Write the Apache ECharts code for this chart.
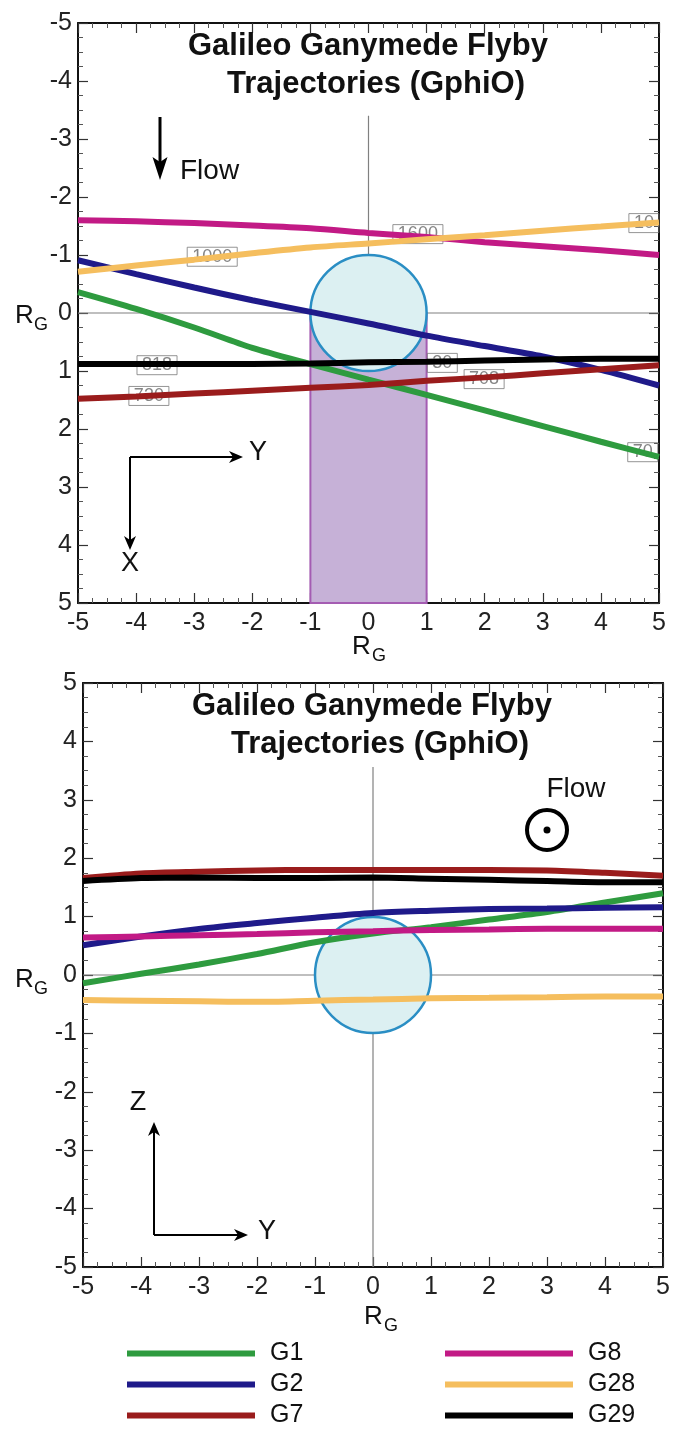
<!DOCTYPE html>
<html>
<head>
<meta charset="utf-8">
<script src="https://cdn.jsdelivr.net/npm/echarts@6/dist/echarts.min.js"></script>
<style>
  html, body { margin: 0; padding: 0; background: #ffffff; }
  #chart { width: 675px; height: 1429px; }
</style>
</head>
<body>
<div id="chart"></div>
<script>
// Positions along Y (R_G) where each trajectory is sampled
const ySamples = [-5, -4, -3, -2, -1, 0, 1, 2, 3, 4, 5];

// Upper panel: X coordinate (R_G) of each flyby at the sample positions
const xG1  = [-0.36, -0.07, 0.25, 0.60, 0.88, 1.15, 1.41, 1.68, 1.95, 2.22, 2.48];
const xG2  = [-0.91, -0.67, -0.44, -0.22, -0.02, 0.18, 0.39, 0.57, 0.75, 0.98, 1.25];
const xG7  = [1.48, 1.44, 1.39, 1.34, 1.29, 1.24, 1.17, 1.11, 1.04, 0.97, 0.90];
const xG8  = [-1.60, -1.58, -1.55, -1.51, -1.46, -1.38, -1.31, -1.22, -1.15, -1.08, -1.00];
const xG28 = [-0.71, -0.82, -0.92, -1.03, -1.13, -1.20, -1.27, -1.34, -1.42, -1.49, -1.56];
const xG29 = [0.88, 0.88, 0.88, 0.88, 0.87, 0.85, 0.84, 0.82, 0.80, 0.79, 0.79];

// Lower panel: Z coordinate (R_G) of each flyby at the sample positions
const zG1  = [-0.14, 0.02, 0.18, 0.36, 0.56, 0.71, 0.82, 0.95, 1.08, 1.24, 1.40];
const zG2  = [0.51, 0.66, 0.79, 0.89, 0.98, 1.06, 1.10, 1.13, 1.14, 1.15, 1.16];
const zG7  = [1.66, 1.74, 1.77, 1.79, 1.80, 1.80, 1.80, 1.80, 1.79, 1.75, 1.70];
const zG8  = [0.64, 0.66, 0.68, 0.70, 0.73, 0.75, 0.77, 0.78, 0.79, 0.79, 0.79];
const zG28 = [-0.43, -0.44, -0.45, -0.46, -0.44, -0.42, -0.40, -0.39, -0.38, -0.37, -0.37];
const zG29 = [1.61, 1.66, 1.67, 1.66, 1.66, 1.67, 1.65, 1.63, 1.61, 1.59, 1.59];

// Flyby names and colours
const flybys = ['G1', 'G2', 'G7', 'G8', 'G28', 'G29'];
const flybyColors = ['#2e9b3f', '#1f1a8a', '#9a1c1c', '#c21a85', '#f5be5e', '#000000'];

// Time tags along the tracks (upper panel)
const tagText = ['1000', '1600', '10', '818', '730', '30', '708', '70'];
const tagY    = [-2.69, 0.85, 4.74, -3.64, -3.78, 1.27, 1.99, 4.72];
const tagX    = [-0.97, -1.36, -1.55, 0.90, 1.43, 0.86, 1.14, 2.40];

// Axis range and tick step (both panels, both axes)
const axisMin = -5;
const axisMax = 5;
const tickStep = 1;

// Ganymede: centre (Y, second coord) and radius, in R_G
const moon = [0, 0, 1];
// Geometric wake behind the moon in the upper panel: Y1, X1, Y2, X2
const wake = [-1, 0, 1, 5];

// Reference lines through the origin
const topHLine = [[-5, 0], [5, 0]];
const topVLine = [[0, -3.4], [0, -1]];
const botHLine = [[-5, 0], [5, 0]];
const botVLine = [[0, 3.56], [0, -5]];

const FONT = '"Liberation Sans", Arial, sans-serif';

const chart = echarts.init(document.getElementById('chart'), null, { renderer: 'canvas' });

const grids = [
  { left: 78, top: 23, width: 581, height: 580 },
  { left: 83, top: 683, width: 580, height: 584 }
];

function makeAxis(gridIndex, position, showLabel, inverse) {
  return {
    type: 'value',
    gridIndex: gridIndex,
    position: position,
    min: axisMin,
    max: axisMax,
    interval: tickStep,
    inverse: !!inverse,
    axisLine: { show: true, onZero: false, lineStyle: { color: '#111', width: 2 } },
    axisTick: { show: true, inside: true, length: 10, lineStyle: { color: '#333', width: 1.2 } },
    minorTick: { show: true, splitNumber: 4, length: 5, lineStyle: { color: '#555', width: 1 } },
    splitLine: { show: false },
    minorSplitLine: { show: false },
    axisLabel: {
      show: showLabel,
      fontSize: 25,
      fontFamily: FONT,
      color: '#222',
      margin: (position === 'left') ? 6 : 8
    }
  };
}

const xAxes = [
  makeAxis(0, 'bottom', true),
  makeAxis(0, 'top', false),
  makeAxis(1, 'bottom', true),
  makeAxis(1, 'top', false)
];
const yAxes = [
  makeAxis(0, 'left', true, true),
  makeAxis(0, 'right', false, true),
  makeAxis(1, 'left', true),
  makeAxis(1, 'right', false)
];

function pairs(ys, vs) { return ys.map((y, i) => [y, vs[i]]); }

function renderMoon(params, api) {
  const c = api.coord([api.value(0), api.value(1)]);
  const s = api.size([api.value(2), api.value(2)]);
  return {
    type: 'circle',
    shape: { cx: c[0], cy: c[1], r: s[0] },
    style: { fill: '#dcf0f2', stroke: '#2a8ec4', lineWidth: 2.5 }
  };
}

function renderWake(params, api) {
  const p1 = api.coord([api.value(0), api.value(1)]);
  const p2 = api.coord([api.value(2), api.value(3)]);
  return {
    type: 'rect',
    shape: {
      x: Math.min(p1[0], p2[0]), y: Math.min(p1[1], p2[1]),
      width: Math.abs(p2[0] - p1[0]), height: Math.abs(p2[1] - p1[1])
    },
    style: { fill: '#c6b1d7', stroke: '#a45cb2', lineWidth: 2 }
  };
}

function refLine(data, xi, yi) {
  return {
    type: 'line', xAxisIndex: xi, yAxisIndex: yi, data: data,
    symbol: 'none', silent: true, z: 1,
    lineStyle: { color: '#808080', width: 1.2 }
  };
}

const series = [];

// Upper panel (GphiO X vs Y)
series.push(refLine(topHLine, 0, 0));
series.push(refLine(topVLine, 0, 0));
series.push({
  type: 'custom', xAxisIndex: 0, yAxisIndex: 0, z: 2, silent: true,
  renderItem: renderWake, encode: { x: [0, 2], y: [1, 3] }, data: [wake]
});
series.push({
  type: 'custom', xAxisIndex: 0, yAxisIndex: 0, z: 3, silent: true,
  renderItem: renderMoon, encode: { x: 0, y: 1 }, data: [moon]
});
series.push({
  type: 'scatter', xAxisIndex: 0, yAxisIndex: 0, z: 4, silent: true,
  symbolSize: 1, itemStyle: { color: 'rgba(0,0,0,0)' },
  data: tagText.map((t, i) => ({ name: t, value: [tagY[i], tagX[i]] })),
  label: {
    show: true, position: 'inside', formatter: '{b}',
    fontSize: 18, fontFamily: FONT, color: '#666',
    borderColor: '#7a7a7a', borderWidth: 1, padding: [1, 5, 0, 5]
  }
});
const topValues = [xG1, xG2, xG7, xG8, xG28, xG29];
flybys.forEach((name, k) => {
  series.push({
    name: name, type: 'line', xAxisIndex: 0, yAxisIndex: 0, z: 5,
    data: pairs(ySamples, topValues[k]), smooth: 0.3, symbol: 'none',
    color: flybyColors[k], lineStyle: { width: 6, color: flybyColors[k] }
  });
});

// Lower panel (GphiO Z vs Y)
series.push(refLine(botHLine, 2, 2));
series.push(refLine(botVLine, 2, 2));
series.push({
  type: 'custom', xAxisIndex: 2, yAxisIndex: 2, z: 3, silent: true,
  renderItem: renderMoon, encode: { x: 0, y: 1 }, data: [moon]
});
const botValues = [zG1, zG2, zG7, zG8, zG28, zG29];
flybys.forEach((name, k) => {
  series.push({
    name: name, type: 'line', xAxisIndex: 2, yAxisIndex: 2, z: 5,
    data: pairs(ySamples, botValues[k]), smooth: 0.3, symbol: 'none',
    color: flybyColors[k], lineStyle: { width: 6, color: flybyColors[k] }
  });
});

function txt(text, x, y, size, opts) {
  opts = opts || {};
  return {
    type: 'text', x: x, y: y, z: 100, silent: true,
    style: {
      text: text, fontSize: size, fontFamily: FONT,
      fontWeight: opts.bold ? 'bold' : 'normal',
      fill: opts.color || '#111',
      align: opts.align || 'center', verticalAlign: 'middle'
    }
  };
}
function seg(x1, y1, x2, y2, w) {
  return { type: 'line', z: 100, silent: true, shape: { x1: x1, y1: y1, x2: x2, y2: y2 },
           style: { stroke: '#000', lineWidth: w || 2 } };
}
function head(points) {
  return { type: 'polygon', z: 100, silent: true, shape: { points: points }, style: { fill: '#000' } };
}

const graphics = [
  // titles
  txt('Galileo Ganymede Flyby', 368, 46, 31, { bold: true }),
  txt('Trajectories (GphiO)', 376, 84, 31, { bold: true }),
  txt('Galileo Ganymede Flyby', 372, 706, 31, { bold: true }),
  txt('Trajectories (GphiO)', 380, 744, 31, { bold: true }),

  // axis names R_G
  txt('R', 15, 316, 26, { align: 'left' }),
  txt('G', 34, 325, 18, { align: 'left' }),
  txt('R', 352, 647, 26, { align: 'left' }),
  txt('G', 372, 656, 18, { align: 'left' }),
  txt('R', 15, 980, 26, { align: 'left' }),
  txt('G', 34, 989, 18, { align: 'left' }),
  txt('R', 364, 1317, 26, { align: 'left' }),
  txt('G', 384, 1326, 18, { align: 'left' }),

  // flow direction, upper panel
  seg(160, 117, 160, 162, 3),
  head([[160, 180], [152.5, 157], [160, 162], [167.5, 157]]),
  txt('Flow', 180, 171, 28, { align: 'left' }),

  // coordinate triad, upper panel
  seg(130, 457, 236, 457, 2),
  head([[243, 457], [229, 451], [233, 457], [229, 463]]),
  seg(130, 457, 130, 543, 2),
  head([[130, 550], [124, 536], [130, 540], [136, 536]]),
  txt('Y', 258, 453, 27),
  txt('X', 130, 564, 27),

  // flow direction, lower panel (out of page)
  { type: 'circle', z: 100, silent: true, shape: { cx: 547, cy: 830, r: 20 },
    style: { fill: 'none', stroke: '#000', lineWidth: 4 } },
  { type: 'circle', z: 100, silent: true, shape: { cx: 547, cy: 830, r: 3.5 },
    style: { fill: '#000' } },
  txt('Flow', 576, 789, 28),

  // coordinate triad, lower panel
  seg(154, 1235, 154, 1130, 2),
  head([[154, 1122], [148, 1136], [154, 1132], [160, 1136]]),
  seg(154, 1235, 241, 1235, 2),
  head([[248, 1235], [234, 1229], [238, 1235], [234, 1241]]),
  txt('Z', 138, 1103, 27),
  txt('Y', 267, 1232, 27)
];

function legendBlock(names, left) {
  return {
    orient: 'vertical', left: left, top: 1341, height: 88, padding: 0,
    data: names, icon: 'rect', itemWidth: 128, itemHeight: 6, itemGap: 6,
    selectedMode: false,
    textStyle: { fontSize: 25, fontFamily: FONT, color: '#111', lineHeight: 24, padding: [0, 0, 0, 10] }
  };
}

chart.setOption({
  animation: false,
  backgroundColor: '#ffffff',
  grid: grids,
  xAxis: xAxes,
  yAxis: yAxes,
  legend: [legendBlock(['G1', 'G2', 'G7'], 127), legendBlock(['G8', 'G28', 'G29'], 445)],
  series: series,
  graphic: graphics
});
</script>
</body>
</html>
